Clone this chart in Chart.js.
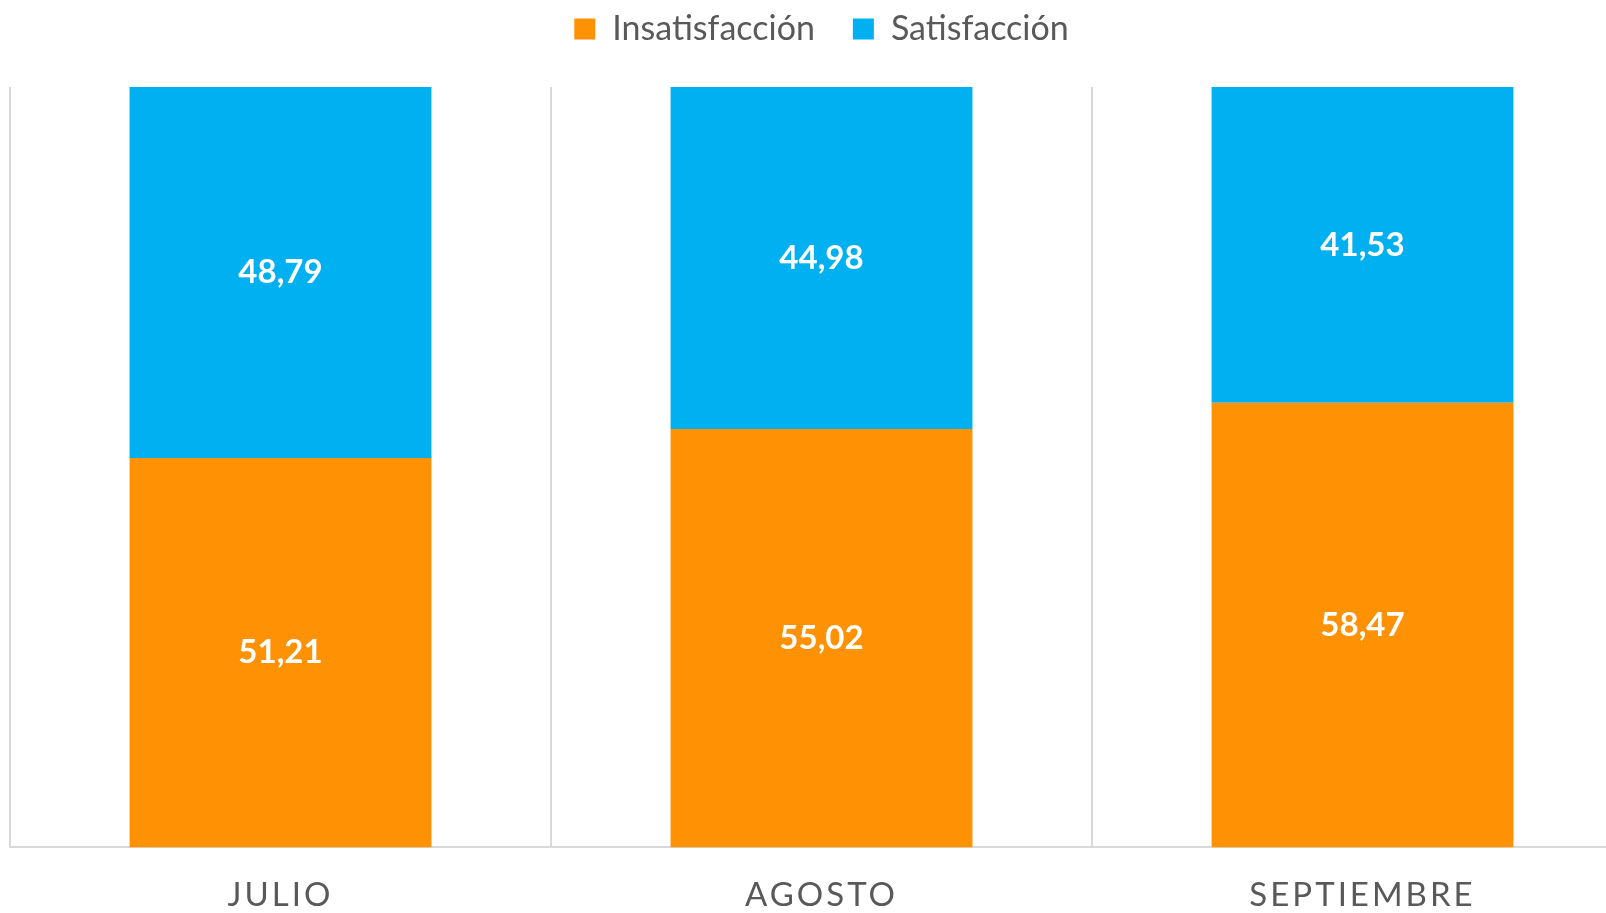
<!DOCTYPE html>
<html>
<head>
<meta charset="utf-8">
<script src="https://cdn.jsdelivr.net/npm/chart.js@4"></script>
<style>
  html, body { margin: 0; padding: 0; background: #fff; overflow: hidden; }
  #wrap { width: 1654px; height: 913px; }
</style>
</head>
<body>
<div id="wrap"><canvas id="chart-canvas"></canvas></div>
<script>
const months = ["JULIO", "AGOSTO", "SEPTIEMBRE"];
const insatisfaccion = [51.21, 55.02, 58.47];
const satisfaccion = [48.79, 44.98, 41.53];

const orange = "#FF9105";
const blue = "#00B0F0";
const grey = "#595959";

// white value labels in the middle of each segment
const valueLabels = {
  id: "valueLabels",
  afterDatasetsDraw(chart) {
    const ctx = chart.ctx;
    ctx.save();
    ctx.font = "bold 33px Lato";
    ctx.fillStyle = "#fff";
    ctx.textAlign = "center";
    ctx.textBaseline = "middle";
    chart.data.datasets.forEach((ds, i) => {
      chart.getDatasetMeta(i).data.forEach((bar, j) => {
        const p = bar.getProps(["x", "y", "base"], true);
        ctx.fillText(ds.data[j].toFixed(2).replace(".", ","), p.x, (p.y + p.base) / 2);
      });
    });
    ctx.restore();
    // spaced-out category labels are drawn after this hook (ticks z = 1)
    ctx.letterSpacing = "3px";
  },
  afterDraw(chart) {
    chart.ctx.letterSpacing = "0px";
  }
};

// legend block ends where the plot starts
const legendHeight = {
  id: "legendHeight",
  beforeInit(chart) {
    const fit = chart.legend.fit;
    chart.legend.fit = function () {
      fit.bind(chart.legend)();
      this.height = 113;
    };
  }
};

const ctx = document.getElementById("chart-canvas").getContext("2d");
new Chart(ctx, {
  type: "bar",
  data: {
    labels: months,
    datasets: [
      { label: "Insatisfacción", data: insatisfaccion, backgroundColor: orange },
      { label: "Satisfacción", data: satisfaccion, backgroundColor: blue }
    ]
  },
  options: {
    responsive: true,
    maintainAspectRatio: false,
    animation: false,
    layout: { padding: { left: 10, right: 21, top: -26, bottom: -30 } },
    datasets: { bar: { barPercentage: 1, categoryPercentage: 0.558 } },
    plugins: {
      tooltip: { enabled: false },
      legend: {
        position: "top",
        labels: {
          font: { family: "Lato", size: 34 },
          color: grey,
          boxWidth: 21,
          boxHeight: 21,
          padding: 38
        }
      }
    },
    scales: {
      x: {
        stacked: true,
        grid: { color: "#D9D9D9", lineWidth: 2, drawTicks: false, offset: true },
        border: { color: "#D9D9D9", width: 2 },
        ticks: { font: { family: "Lato", size: 33 }, color: grey, padding: 28, z: 1 }
      },
      y: {
        stacked: true,
        display: false,
        min: 0,
        max: 100
      }
    }
  },
  plugins: [valueLabels, legendHeight]
});
</script>
</body>
</html>
